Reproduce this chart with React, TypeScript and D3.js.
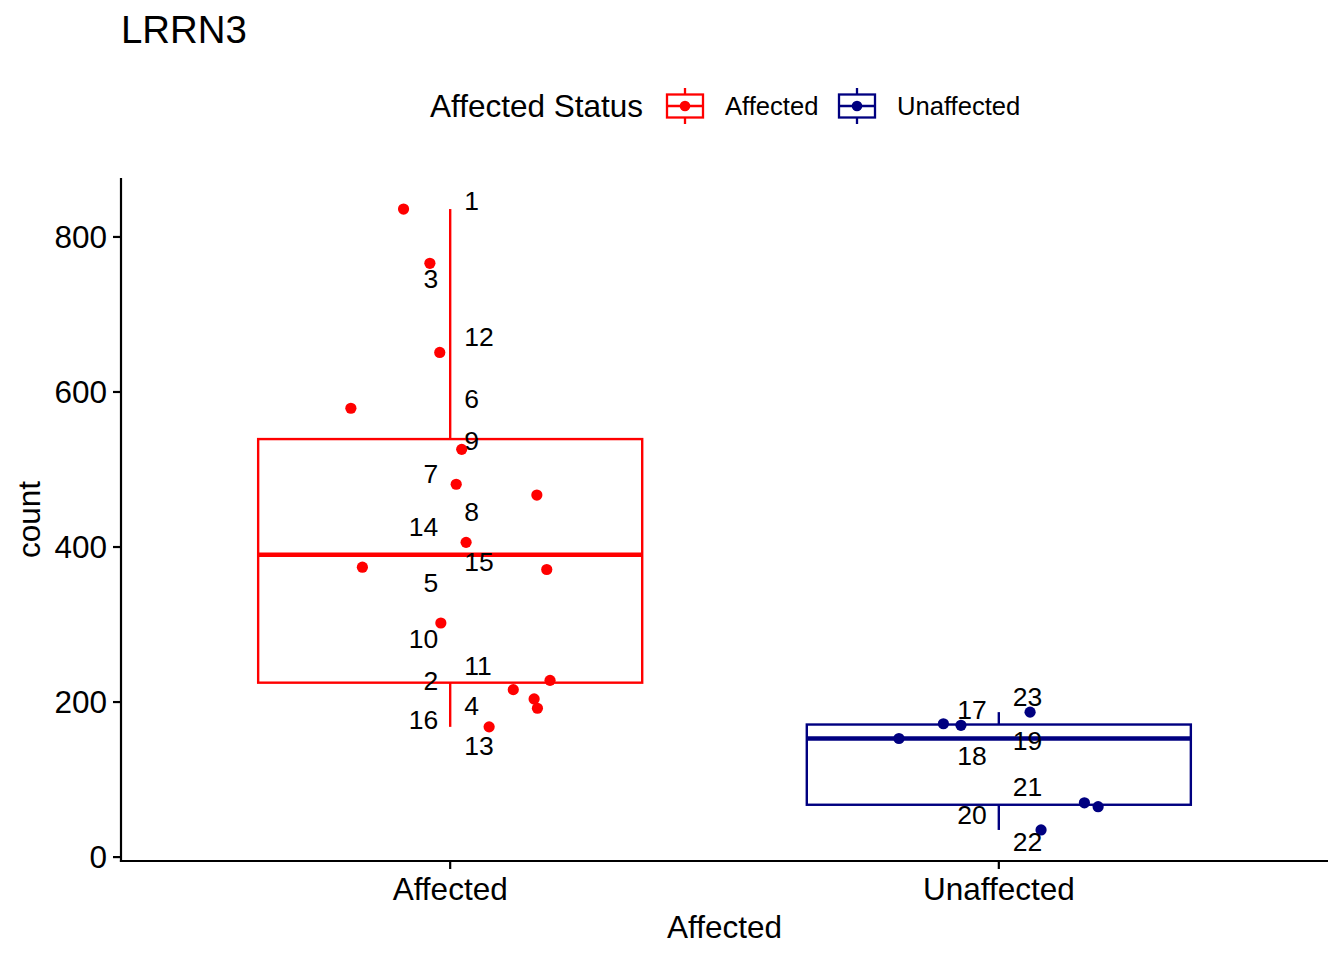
import React from 'react';
import * as d3 from 'd3';

// groups and their fill colours
const groups = ['Affected', 'Unaffected'];
const groupColors = ['#FF0000', '#000080'];

// one entry per sample
const sampleIds = [1, 2, 3, 4, 5, 6, 7, 8, 9, 10, 11, 12, 13, 14, 15, 16, 17, 18, 19, 20, 21, 22, 23];
const sampleGroup = [
  'Affected', 'Affected', 'Affected', 'Affected', 'Affected', 'Affected', 'Affected', 'Affected',
  'Affected', 'Affected', 'Affected', 'Affected', 'Affected', 'Affected', 'Affected', 'Affected',
  'Unaffected', 'Unaffected', 'Unaffected', 'Unaffected', 'Unaffected', 'Unaffected', 'Unaffected',
];
const counts = [836, 216, 766, 204, 371, 579, 481, 467, 526, 302, 228, 651, 168, 406, 374, 192, 172, 153, 170, 65, 70, 35, 187];
// horizontal jitter of each point, in category units
const jitter = [-0.085, 0.115, -0.037, 0.153, 0.176, -0.181, 0.011, 0.158, 0.021, -0.017, 0.182, -0.019, 0.071, 0.029, -0.16, 0.159, -0.101, -0.182, -0.069, 0.181, 0.156, 0.077, 0.057];
// repelled label heights (data units) and side of the box centre
const labelAt = [847, 228, 747, 195, 354, 592, 495, 446, 538, 282, 247, 672, 144, 426, 382, 177, 190, 131, 151, 55, 91, 20, 207];
const labelSide = [1, -1, -1, 1, -1, 1, -1, 1, 1, -1, 1, 1, 1, -1, 1, -1, -1, -1, 1, -1, 1, 1, 1];

const yTicks = [0, 200, 400, 600, 800];

const FONT = '"Liberation Sans", Arial, Helvetica, sans-serif';
const W = 1344;
const H = 960;
const BOX_WIDTH = 0.7;

const panel = { left: 121, right: 1328, top: 178, bottom: 861 };

function boxStats(values: number[]) {
  const v = [...values].sort(d3.ascending);
  const q1 = d3.quantile(v, 0.25)!;
  const med = d3.quantile(v, 0.5)!;
  const q3 = d3.quantile(v, 0.75)!;
  const iqr = q3 - q1;
  const lo = d3.min(v.filter(d => d >= q1 - 1.5 * iqr))!;
  const hi = d3.max(v.filter(d => d <= q3 + 1.5 * iqr))!;
  return { q1, med, q3, lo, hi };
}

const App: React.FC = () => {
  const [minV, maxV] = d3.extent(counts) as [number, number];
  const pad = (maxV - minV) * 0.05;

  const x = d3.scaleLinear().domain([0.4, groups.length + 0.6]).range([panel.left, panel.right]);
  const y = d3.scaleLinear().domain([minV - pad, maxV + pad]).range([panel.bottom, panel.top]);

  const samples = sampleIds.map((id, i) => ({
    id,
    group: sampleGroup[i],
    gi: groups.indexOf(sampleGroup[i]),
    value: counts[i],
    jit: jitter[i],
    labelY: labelAt[i],
    side: labelSide[i],
  }));

  const boxes = groups.map((g, gi) => ({
    g,
    gi,
    color: groupColors[gi],
    ...boxStats(samples.filter(s => s.group === g).map(s => s.value)),
  }));

  const half = (x(1 + BOX_WIDTH / 2) - x(1));

  return (
    <svg width={W} height={H} style={{ position: 'absolute', left: 0, top: 0, background: '#fff' }} fontFamily={FONT}>
      <rect x={0} y={0} width={W} height={H} fill="#fff" />

      {/* title */}
      <text x={121} y={43} fontSize={38.4} fill="#000">LRRN3</text>

      {/* legend */}
      <g>
        <text x={430} y={117} fontSize={31.5} fill="#000">Affected Status</text>
        {groups.map((g, gi) => {
          const kx = gi === 0 ? 667 : 839;
          const cx = kx + 18;
          const cy = 106;
          return (
            <g key={g}>
              <line x1={cx} x2={cx} y1={cy - 18} y2={cy + 18} stroke={groupColors[gi]} strokeWidth={2.3} />
              <rect x={kx} y={cy - 11.5} width={36} height={23} fill="#fff" stroke={groupColors[gi]} strokeWidth={2.3} />
              <line x1={kx} x2={kx + 36} y1={cy} y2={cy} stroke={groupColors[gi]} strokeWidth={2.3} />
              <circle cx={cx} cy={cy} r={5.3} fill={groupColors[gi]} />
              <text x={kx + 58} y={cy + 9.3} fontSize={25.6} fill="#000">{g}</text>
            </g>
          );
        })}
      </g>

      {/* boxes */}
      {boxes.map(b => {
        const cx = x(b.gi + 1);
        return (
          <g key={b.g} stroke={b.color} fill="none">
            <line x1={cx} x2={cx} y1={y(b.q3)} y2={y(b.hi)} strokeWidth={2.4} />
            <line x1={cx} x2={cx} y1={y(b.q1)} y2={y(b.lo)} strokeWidth={2.4} />
            <rect x={cx - half} y={y(b.q3)} width={half * 2} height={y(b.q1) - y(b.q3)} fill="#fff" strokeWidth={2.4} />
            <line x1={cx - half} x2={cx + half} y1={y(b.med)} y2={y(b.med)} strokeWidth={4.6} />
          </g>
        );
      })}

      {/* jittered points */}
      {samples.map(s => (
        <circle key={s.id} cx={x(s.gi + 1 + s.jit)} cy={y(s.value)} r={5.6} fill={groupColors[s.gi]} />
      ))}

      {/* sample labels */}
      {samples.map(s => (
        <text
          key={'l' + s.id}
          x={x(s.gi + 1) + (s.side > 0 ? 14 : -12)}
          y={y(s.labelY)}
          dy="0.36em"
          textAnchor={s.side > 0 ? 'start' : 'end'}
          fontSize={26.5}
          fill="#000"
        >
          {s.id}
        </text>
      ))}

      {/* y axis */}
      <line x1={panel.left} x2={panel.left} y1={panel.top} y2={panel.bottom + 1.1} stroke="#000" strokeWidth={2.2} />
      {yTicks.map(t => (
        <g key={t}>
          <line x1={panel.left - 8} x2={panel.left} y1={y(t)} y2={y(t)} stroke="#000" strokeWidth={2.2} />
          <text x={panel.left - 14} y={y(t)} dy="0.36em" textAnchor="end" fontSize={31.5} fill="#000">{t}</text>
        </g>
      ))}

      {/* x axis */}
      <line x1={panel.left - 1.1} x2={panel.right} y1={panel.bottom} y2={panel.bottom} stroke="#000" strokeWidth={2.2} />
      {groups.map((g, gi) => (
        <g key={g}>
          <line x1={x(gi + 1)} x2={x(gi + 1)} y1={panel.bottom} y2={panel.bottom + 8} stroke="#000" strokeWidth={2.2} />
          <text x={x(gi + 1)} y={900} textAnchor="middle" fontSize={31.5} fill="#000">{g}</text>
        </g>
      ))}

      {/* axis titles */}
      <text x={(panel.left + panel.right) / 2} y={938} textAnchor="middle" fontSize={31.5} fill="#000">Affected</text>
      <text transform={`translate(40,${(panel.top + panel.bottom) / 2}) rotate(-90)`} textAnchor="middle" fontSize={31.5} fill="#000">count</text>
    </svg>
  );
};

export default App;
